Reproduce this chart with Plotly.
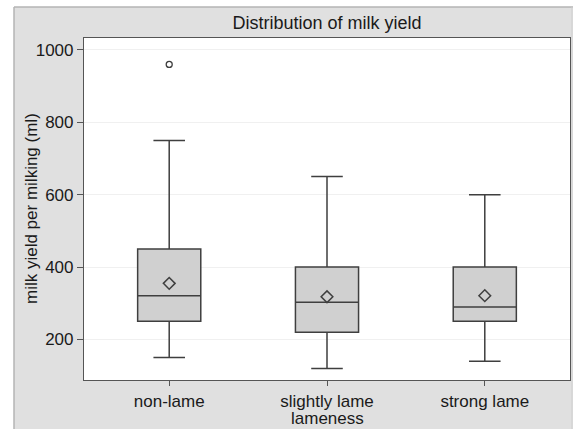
import plotly.graph_objects as go

categories = ["non-lame", "slightly lame", "strong lame"]
q1 = [250, 220, 250]
median = [321, 303, 290]
q3 = [450, 400, 400]
lower_whisker = [150, 120, 140]
upper_whisker = [750, 650, 600]
means = [355, 318, 321]
outlier_cat = ["non-lame"]
outlier_val = [960]
y_ticks = [200, 400, 600, 800, 1000]

FONT = "Liberation Sans, Arial, sans-serif"
LINE = "#3f3f3f"
W, H = 573, 429
L, R, T, B = 84, 3, 38, 49
PW, PH = W - L - R, H - T - B


def px_x(px):
    return (px - L) / PW


def px_y(py):
    return (H - B - py) / PH


fig = go.Figure()
fig.add_trace(go.Box(
    x=categories, q1=q1, median=median, q3=q3,
    lowerfence=lower_whisker, upperfence=upper_whisker,
    fillcolor="#d0d0d0", line=dict(color=LINE, width=1.5),
    width=0.4, whiskerwidth=0.5, boxpoints=False, showlegend=False,
))
fig.add_trace(go.Scatter(
    x=categories, y=means, mode="markers",
    marker=dict(symbol="diamond-open", size=9, color=LINE, line=dict(width=1.5, color=LINE)),
    showlegend=False,
))
fig.add_trace(go.Scatter(
    x=outlier_cat, y=outlier_val, mode="markers",
    marker=dict(symbol="circle-open", size=6, color=LINE, line=dict(width=1.3, color=LINE)),
    showlegend=False,
))

# white strips outside the gray frame (paper is gray)
fig.add_shape(type="rect", xref="paper", yref="paper",
              x0=px_x(-5), x1=px_x(14), y0=px_y(440), y1=px_y(-5),
              fillcolor="white", line=dict(width=0), layer="below")
fig.add_shape(type="rect", xref="paper", yref="paper",
              x0=px_x(-5), x1=px_x(580), y0=px_y(7), y1=px_y(-5),
              fillcolor="white", line=dict(width=0), layer="below")
# frame border lines
fig.add_shape(type="line", xref="paper", yref="paper",
              x0=px_x(14), x1=px_x(14), y0=px_y(440), y1=px_y(7),
              line=dict(color="#b4b4b4", width=1.5), layer="below")
fig.add_shape(type="line", xref="paper", yref="paper",
              x0=px_x(14), x1=px_x(580), y0=px_y(7), y1=px_y(7),
              line=dict(color="#b4b4b4", width=1.5), layer="below")
fig.add_shape(type="line", xref="paper", yref="paper",
              x0=px_x(572), x1=px_x(572), y0=px_y(440), y1=px_y(7),
              line=dict(color="#cfcfcf", width=1), layer="below")

fig.add_annotation(text="milk yield per milking (ml)", xref="paper", yref="paper",
                   x=px_x(31), y=0.5, textangle=-90, showarrow=False,
                   xanchor="center", yanchor="middle",
                   font=dict(family=FONT, size=17, color="#1a1a1a"))
fig.add_annotation(text="lameness", xref="paper", yref="paper",
                   x=0.5, y=px_y(419), showarrow=False, yanchor="middle",
                   font=dict(family=FONT, size=17, color="#1a1a1a"))

fig.update_layout(
    width=W, height=H,
    margin=dict(l=L, r=R, t=T, b=B, autoexpand=False),
    paper_bgcolor="#e0e0e0", plot_bgcolor="white",
    title=dict(text="Distribution of milk yield", x=(327 / W), xanchor="center",
               y=1 - 23 / H, yanchor="middle", yref="container",
               font=dict(family=FONT, size=18, color="#1a1a1a")),
    font=dict(family=FONT, size=17, color="#1a1a1a"),
)
fig.update_xaxes(type="category", range=[-0.54, 2.54], showline=True, mirror=True,
                 linecolor="#555555", linewidth=1.2, ticks="outside", ticklen=5,
                 tickcolor="#555555", showgrid=False, zeroline=False,
                 tickfont=dict(family=FONT, size=17, color="#1a1a1a"))
fig.update_yaxes(range=[88, 1033], tickvals=y_ticks, showline=True, mirror=True,
                 linecolor="#555555", linewidth=1.2, ticks="outside", ticklen=6,
                 tickcolor="#555555", showgrid=True, gridcolor="#f0f0f0", zeroline=False,
                 tickfont=dict(family=FONT, size=17, color="#1a1a1a"))

fig.write_html("out.html", config={"displayModeBar": False},
               post_script="document.body.style.margin='0';document.body.style.overflow='hidden';")
